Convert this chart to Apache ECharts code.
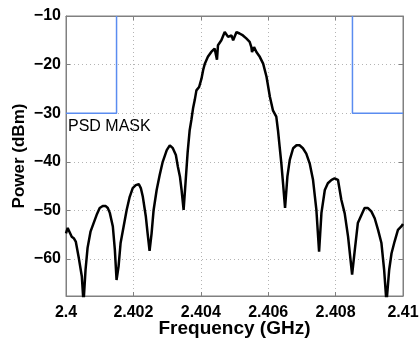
<!DOCTYPE html>
<html>
<head>
<meta charset="utf-8">
<script src="https://cdn.jsdelivr.net/npm/echarts@6/dist/echarts.min.js"></script>
<style>
html,body{margin:0;padding:0;background:#fff;}
#c{width:420px;height:339px;}
</style>
</head>
<body>
<div id="c"></div>
<script>
const freqGHz = [2.4000,2.40005,2.40017,2.40023,2.40029,2.40038,2.40047,2.40052,2.40058,2.40064,2.40073,2.40082,2.40091,2.40100,2.40109,2.40118,2.40124,2.40130,2.40139,2.40145,2.40150,2.40156,2.40162,2.40171,2.40180,2.40189,2.40198,2.40207,2.40216,2.40222,2.40228,2.40237,2.40242,2.40248,2.40254,2.40260,2.40269,2.40278,2.40287,2.40299,2.40308,2.40317,2.40326,2.40332,2.40338,2.40343,2.40349,2.40355,2.40361,2.40367,2.40372,2.40377,2.40382,2.40387,2.40395,2.40402,2.40407,2.40412,2.40421,2.40431,2.40441,2.40448,2.40451,2.40461,2.40471,2.40481,2.40491,2.40496,2.40506,2.40515,2.40525,2.40535,2.40545,2.40550,2.40552,2.40558,2.40565,2.40575,2.40585,2.40595,2.40605,2.40614,2.40624,2.40629,2.40634,2.40639,2.40644,2.40650,2.40657,2.40664,2.40674,2.40684,2.40688,2.40693,2.40703,2.40713,2.40723,2.40733,2.40743,2.40751,2.40758,2.40768,2.40777,2.40788,2.40797,2.40807,2.40817,2.40827,2.40837,2.40849,2.40857,2.40866,2.40877,2.40886,2.40896,2.40906,2.40916,2.40926,2.40936,2.40944,2.40951,2.40959,2.40966,2.40975,2.40985,2.40995,2.41000];
const powerDbm = [-54.7,-53.6,-55.4,-55.7,-56.4,-59.8,-63.6,-69,-62.2,-57.7,-54.3,-52.6,-50.9,-49.5,-49.1,-49.1,-49.5,-50.5,-53.3,-58.1,-64.3,-61.5,-56.7,-53.3,-49.9,-47.2,-45.4,-44.8,-44.6,-45.4,-47.2,-51.3,-54.6,-58.3,-54.7,-49.9,-45.8,-42.7,-40.0,-37.6,-36.6,-37.2,-38.6,-41.0,-43.0,-45.8,-49.9,-44.0,-38.0,-33.5,-31.4,-29.0,-27.3,-25.3,-24.6,-22.9,-21.1,-19.8,-18.4,-17.4,-16.7,-19.0,-16.0,-15.0,-13.3,-14.3,-14.0,-15.0,-13.3,-13.6,-14.0,-14.6,-15.3,-16.4,-17.4,-16.4,-17.4,-18.4,-19.8,-22.5,-26.6,-29.4,-30.7,-33.5,-36.9,-40.3,-44.4,-49.5,-43.0,-39.6,-37.2,-36.6,-36.2,-36.6,-37.2,-38.3,-40.3,-43.7,-49.9,-58.5,-50.5,-45.8,-44.4,-43.7,-43.4,-43.7,-47.8,-50.6,-55.4,-63.2,-58.1,-52.6,-50.9,-49.5,-49.5,-50.2,-51.6,-54.0,-56.7,-62.2,-69,-62.2,-58.8,-56.4,-54.0,-53.3,-52.8];
const maskLeftX = [2.4, 2.4015, 2.4015];
const maskLeftY = [-30, -30, -10];
const maskRightX = [2.4085, 2.4085, 2.41];
const maskRightY = [-10, -30, -30];
const xTicks = [2.4, 2.402, 2.404, 2.406, 2.408, 2.41];
const yTicks = [-60, -50, -40, -30, -20, -10];
const maskLabel = 'PSD MASK';

const zip = (a, b) => a.map((v, i) => [v, b[i]]);
const chart = echarts.init(document.getElementById('c'), null, {renderer: 'canvas'});
const font = 'Liberation Sans, Arial, Helvetica, sans-serif';
const axisCol = '#808080';
const gridLine = {show: true, lineStyle: {color: '#b4b4b4', type: [1, 3], width: 1}};
chart.setOption({
  animation: false,
  backgroundColor: '#fff',
  grid: {left: 66, right: 17, top: 16, bottom: 43, containLabel: false, outerBoundsMode: 'none',
    show: true, borderColor: axisCol, borderWidth: 1},
  xAxis: [{
    type: 'value', min: 2.4, max: 2.41, interval: 0.002,
    name: 'Frequency (GHz)', nameLocation: 'middle', nameGap: 23, nameMoveOverlap: false,
    nameTextStyle: {fontFamily: font, fontWeight: 'bold', fontSize: 19, color: '#000'},
    axisLine: {show: true, lineStyle: {color: axisCol}},
    axisTick: {show: true, inside: true, length: 4, lineStyle: {color: axisCol}},
    axisLabel: {fontFamily: font, fontWeight: 'bold', fontSize: 16, color: '#000', margin: 9,
      formatter: v => String(parseFloat(v.toFixed(3))), showMinLabel: true, showMaxLabel: true},
    splitLine: gridLine
  }, {
    type: 'value', min: 2.4, max: 2.41, interval: 0.002, position: 'top',
    axisLine: {show: true, lineStyle: {color: axisCol}},
    axisTick: {show: true, inside: true, length: 4, lineStyle: {color: axisCol}},
    axisLabel: {show: false}, splitLine: {show: false}
  }],
  yAxis: [{
    type: 'value', min: -67.6, max: -10,
    name: 'Power (dBm)', nameLocation: 'middle', nameGap: 38, nameMoveOverlap: false,
    nameTextStyle: {fontFamily: font, fontWeight: 'bold', fontSize: 17, color: '#000'},
    axisLine: {show: true, lineStyle: {color: axisCol}},
    axisTick: {show: true, inside: true, length: 4, lineStyle: {color: axisCol}, customValues: yTicks},
    axisLabel: {fontFamily: font, fontWeight: 'bold', fontSize: 16, color: '#000', margin: 5,
      customValues: yTicks, formatter: v => String(v).replace('-', '\u2212')},
    splitLine: gridLine
  }, {
    type: 'value', min: -67.6, max: -10, position: 'right',
    axisLine: {show: true, lineStyle: {color: axisCol}},
    axisTick: {show: true, inside: true, length: 4, lineStyle: {color: axisCol}, customValues: yTicks},
    axisLabel: {show: false}, splitLine: {show: false}
  }],
  series: [{
    type: 'line', data: zip(freqGHz, powerDbm), showSymbol: false, symbol: 'none',
    lineStyle: {color: '#000', width: 2.5}, clip: true, z: 3
  }, {
    type: 'line', data: zip(maskLeftX, maskLeftY), showSymbol: false, symbol: 'none',
    lineStyle: {color: '#5a8cf0', width: 1.5}, clip: true, z: 2
  }, {
    type: 'line', data: zip(maskRightX, maskRightY), showSymbol: false, symbol: 'none',
    lineStyle: {color: '#5a8cf0', width: 1.5}, clip: true, z: 2
  }],
  graphic: [{
    type: 'text', left: 68, top: 119,
    style: {text: maskLabel, font: '16px ' + font, fill: '#000'}
  }]
});
</script>
</body>
</html>
